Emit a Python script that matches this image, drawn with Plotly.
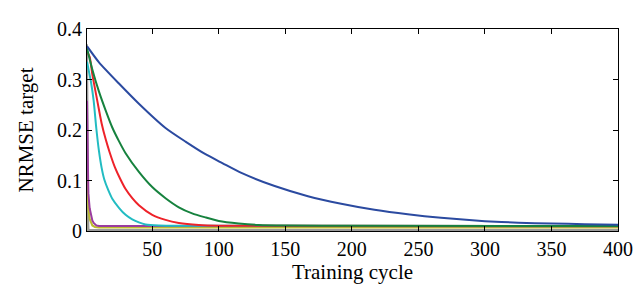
import plotly.graph_objects as go

# Training cycle / NRMSE target values
blue_x = [1, 10, 25, 40, 60, 75, 90, 103, 117, 142, 167, 192, 217, 242, 267, 300, 325, 350, 375, 400]
blue_y = [0.366, 0.334, 0.292, 0.252, 0.204, 0.177, 0.152, 0.134, 0.115, 0.089, 0.069, 0.054, 0.042, 0.033, 0.026, 0.0195, 0.0165, 0.0148, 0.0135, 0.0125]

green_x = [1, 5, 10, 15, 20, 25, 30, 40, 50, 60, 70, 80, 90, 100, 115, 130, 150, 200, 400]
green_y = [0.362, 0.320, 0.276, 0.239, 0.205, 0.178, 0.154, 0.117, 0.087, 0.065, 0.047, 0.035, 0.027, 0.020, 0.015, 0.012, 0.0108, 0.0102, 0.0100]

red_x = [1, 3, 5, 8, 10, 12, 15, 18, 22, 26, 30, 35, 40, 50, 60, 70, 85, 100, 130, 400]
red_y = [0.355, 0.345, 0.310, 0.268, 0.240, 0.213, 0.182, 0.156, 0.126, 0.103, 0.083, 0.065, 0.051, 0.032, 0.022, 0.016, 0.012, 0.0105, 0.0102, 0.0100]

cyan_x = [1, 2, 4, 6, 8, 10, 12, 14, 17, 20, 25, 30, 35, 40, 45, 55, 80, 400]
cyan_y = [0.335, 0.322, 0.295, 0.258, 0.203, 0.158, 0.125, 0.102, 0.081, 0.064, 0.046, 0.032, 0.023, 0.017, 0.013, 0.011, 0.0102, 0.0100]

purple_x = [1, 2, 3, 4, 5, 6, 8, 10, 400]
purple_y = [0.258, 0.075, 0.045, 0.030, 0.021, 0.016, 0.011, 0.0098, 0.0095]

yellow_x = [1, 2, 3, 4, 5, 7, 10, 400]
yellow_y = [0.134, 0.045, 0.024, 0.015, 0.011, 0.008, 0.007, 0.007]

gray_x = [1, 2, 400]
gray_y = [0.370, 0.002, 0.002]

olive_x = [1, 2, 400]
olive_y = [0.050, 0.0005, 0.0005]

x_ticks = [50, 100, 150, 200, 250, 300, 350, 400]
y_ticks = [0, 0.1, 0.2, 0.3, 0.4]
y_tick_text = ["0", "0.1", "0.2", "0.3", "0.4"]

series = [
    (olive_x, olive_y, "#a39c4c", "linear"),
    (gray_x, gray_y, "#9a9a9a", "linear"),
    (yellow_x, yellow_y, "#bdbd2e", "linear"),
    (purple_x, purple_y, "#9a3c9e", "linear"),
    (cyan_x, cyan_y, "#22bcc2", "spline"),
    (red_x, red_y, "#ee2229", "spline"),
    (green_x, green_y, "#16823e", "spline"),
    (blue_x, blue_y, "#2b4aa0", "spline"),
]

fig = go.Figure()
for xs, ys, c, shp in series:
    fig.add_trace(go.Scatter(x=xs, y=ys, mode="lines",
                             line=dict(color=c, width=2, shape=shp, smoothing=0.6),
                             showlegend=False))

fam = "Liberation Serif, Times New Roman, serif"
tick_font = dict(family=fam, size=20, color="black")
title_font = dict(family=fam, size=21, color="black")
fig.update_layout(
    width=643, height=292,
    margin=dict(l=79, r=33, t=10, b=69),
    paper_bgcolor="white", plot_bgcolor="white",
    font=tick_font,
)
fig.update_xaxes(range=[1, 400], tickvals=x_ticks, ticks="inside", ticklen=5,
                 tickcolor="black", showline=True, linecolor="black", linewidth=1,
                 mirror="ticks", showgrid=False, zeroline=False,
                 ticklabeloverflow="allow",
                 title=dict(text="Training cycle", standoff=5, font=title_font),
                 tickfont=tick_font)
fig.update_yaxes(range=[0, 0.4], tickvals=y_ticks, ticktext=y_tick_text,
                 ticks="inside", ticklen=5, tickcolor="black", showline=True,
                 linecolor="black", linewidth=1, mirror="ticks", showgrid=False,
                 zeroline=False, ticklabeloverflow="allow",
                 title=dict(text="NRMSE target", standoff=17, font=title_font),
                 tickfont=tick_font)

fig.write_html("out.html")
